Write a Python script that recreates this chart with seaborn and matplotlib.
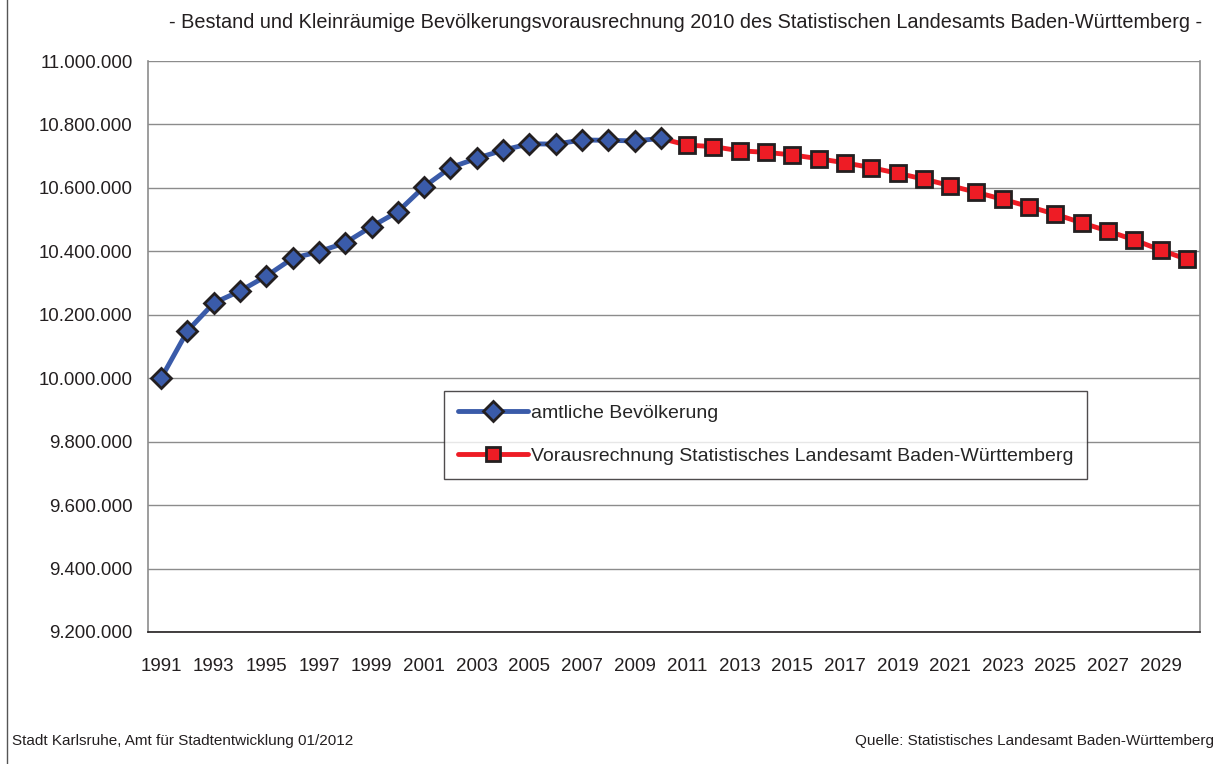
"""
Bevölkerungsentwicklung Baden-Württemberg 1991-2030 — Bestand und Vorausrechnung.
"""
import matplotlib.pyplot as plt
import matplotlib.ticker as mticker
import numpy as np
import seaborn as sns
from matplotlib.patches import Rectangle

# Bestand (amtliche Bevölkerung)
years_official = list(range(1991, 2011))
pop_official = [
    10000000, 10149000, 10237000, 10275000, 10322000, 10378000, 10399000,
    10427000, 10478000, 10525000, 10604000, 10664000, 10693000, 10719000,
    10739000, 10738000, 10751000, 10750000, 10748000, 10756000,
]

# Vorausrechnung (beginnt am letzten Bestandswert 2010)
years_forecast = list(range(2010, 2031))
pop_forecast = [
    10756000, 10735000, 10730000, 10717000, 10712000, 10704000, 10692000,
    10679000, 10664000, 10646000, 10628000, 10607000, 10586000, 10564000,
    10541000, 10517000, 10490000, 10464000, 10436000, 10404000, 10375000,
]

label_official = "amtliche Bevölkerung"
label_forecast = "Vorausrechnung Statistisches Landesamt Baden-Württemberg"
title = "- Bestand und Kleinräumige Bevölkerungsvorausrechnung 2010 des Statistischen Landesamts Baden-Württemberg -"
footer_left = "Stadt Karlsruhe, Amt für Stadtentwicklung 01/2012"
footer_right = "Quelle: Statistisches Landesamt Baden-Württemberg"

sns.set_style("white")
plt.rcParams["font.family"] = ["Liberation Sans", "DejaVu Sans"]

BLUE = "#3a5ba9"
RED = "#ee1c25"
EDGE = "#231f20"

fig = plt.figure(figsize=(12.28, 7.64), dpi=100)
ax = fig.add_axes([148 / 1228, 1 - 632 / 764, 1052 / 1228, 571 / 764])

sns.lineplot(
    x=years_forecast, y=pop_forecast, ax=ax, color=RED, linewidth=3.5,
    marker="s", markersize=11, markerfacecolor=RED, markeredgecolor=EDGE,
    markeredgewidth=2, markevery=list(range(1, len(years_forecast))),
    label=label_forecast, zorder=3,
)
sns.lineplot(
    x=years_official, y=pop_official, ax=ax, color=BLUE, linewidth=3.5,
    marker="D", markersize=10, markerfacecolor=BLUE, markeredgecolor=EDGE,
    markeredgewidth=2, label=label_official, zorder=4,
)

ax.set_xlim(1990.5, 2030.5)
ax.set_ylim(9200000, 11000000)
ax.yaxis.set_major_locator(mticker.MultipleLocator(200000))
ax.yaxis.set_major_formatter(
    mticker.FuncFormatter(lambda v, _: f"{int(round(v)):,}".replace(",", "."))
)
ax.xaxis.set_major_locator(mticker.FixedLocator(np.arange(1991, 2031, 2)))
ax.xaxis.set_minor_locator(mticker.FixedLocator(np.arange(1990.5, 2031, 1)))
ax.tick_params(axis="x", which="major", length=0, pad=19, labelsize=13.5, colors="#231f20")
ax.tick_params(axis="x", which="minor", length=6, width=1, color="#231f20", direction="out")
ax.tick_params(axis="y", length=5, width=1, color="#808080", labelsize=13.4,
               labelcolor="#231f20", direction="out", pad=6)

ax.grid(axis="y", color="#8c8c8c", linewidth=1)
ax.grid(axis="x", visible=False)
ax.set_axisbelow(True)
for side in ["left", "right"]:
    ax.spines[side].set_color("#8c8c8c")
    ax.spines[side].set_linewidth(1.2)
ax.spines["top"].set_visible(False)
ax.spines["bottom"].set_color("#231f20")
ax.spines["bottom"].set_linewidth(1.2)

handles, labels = ax.get_legend_handles_labels()
order = [labels.index(label_official), labels.index(label_forecast)]
leg = ax.legend(
    [handles[i] for i in order], [labels[i] for i in order],
    loc="upper left", bbox_to_anchor=(0.2814, 0.422), fontsize=14,
    frameon=True, fancybox=False, handlelength=3.6, handletextpad=0.15,
    borderpad=0.7, labelspacing=1.3, borderaxespad=0, numpoints=1,
)
leg.get_frame().set_edgecolor("#231f20")
leg.get_frame().set_linewidth(1)
for h in leg.legend_handles:
    h.set_markevery([1])
    h.set_markersize(10)

fig.text(686 / 1228, 1 - 22 / 764, title, ha="center", va="center",
         fontsize=14.3, color="#231f20")
fig.text(12 / 1228, 1 - 741 / 764, footer_left, ha="left", va="center",
         fontsize=11, color="#231f20")
fig.text(1214 / 1228, 1 - 741 / 764, footer_right, ha="right", va="center",
         fontsize=11, color="#231f20")

# Rahmen um das Diagramm
fig.patches.append(Rectangle((7 / 1228, -0.01), 1.2, 1.02, transform=fig.transFigure,
                             fill=False, edgecolor="#555555", linewidth=1))

fig.savefig("out.png", dpi=100)
plt.close(fig)
